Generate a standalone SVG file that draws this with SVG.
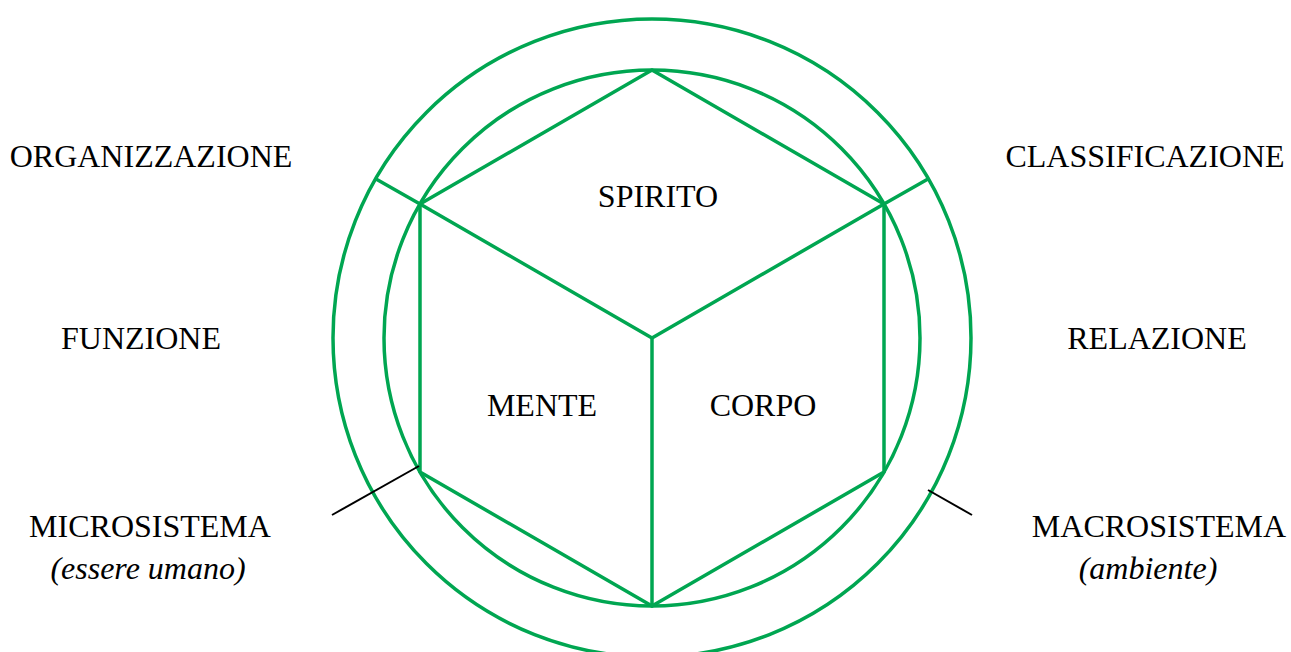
<svg xmlns="http://www.w3.org/2000/svg" width="1291" height="652" viewBox="0 0 1291 652">
<style>
.g{fill:none;stroke:#00a651;stroke-width:3.5;stroke-linejoin:round;stroke-linecap:round}
.k{stroke:#000;stroke-width:2;fill:none}
text{font-family:"Liberation Serif","Times New Roman",serif;font-size:32px;fill:#000;text-anchor:middle}
.i{font-style:italic}
</style>
<rect width="1291" height="652" fill="#fff"/>
<g id="outer-ring">
<circle class="g" cx="652" cy="338" r="319"/>
<circle class="g" cx="652" cy="338" r="268"/>
</g>
<g id="cube">
<polygon class="g" points="652,70 884,204 884,472 652,606 420,472 420,204"/>
<polyline class="g" points="420,204 652,338 884,204"/>
<line class="g" x1="652" y1="338" x2="652" y2="606"/>
</g>
<g id="connectors">
<line class="g" x1="420" y1="204" x2="376" y2="179"/>
<line class="g" x1="884" y1="204" x2="928" y2="179"/>
<line class="k" x1="332" y1="515" x2="419" y2="466"/>
<line class="k" x1="928" y1="490" x2="972" y2="515"/>
</g>
<g id="spirito"><text x="658" y="207">SPIRITO</text></g>
<g id="mente"><text x="542" y="416">MENTE</text></g>
<g id="corpo"><text x="763" y="416">CORPO</text></g>
<g id="organizzazione"><text x="151" y="167">ORGANIZZAZIONE</text></g>
<g id="classificazione"><text x="1145" y="167">CLASSIFICAZIONE</text></g>
<g id="funzione"><text x="141" y="349">FUNZIONE</text></g>
<g id="relazione"><text x="1157" y="349">RELAZIONE</text></g>
<g id="microsistema"><text x="150" y="537">MICROSISTEMA</text><text class="i" x="148" y="579">(essere umano)</text></g>
<g id="macrosistema"><text x="1159" y="537">MACROSISTEMA</text><text class="i" x="1148" y="579">(ambiente)</text></g>
</svg>
